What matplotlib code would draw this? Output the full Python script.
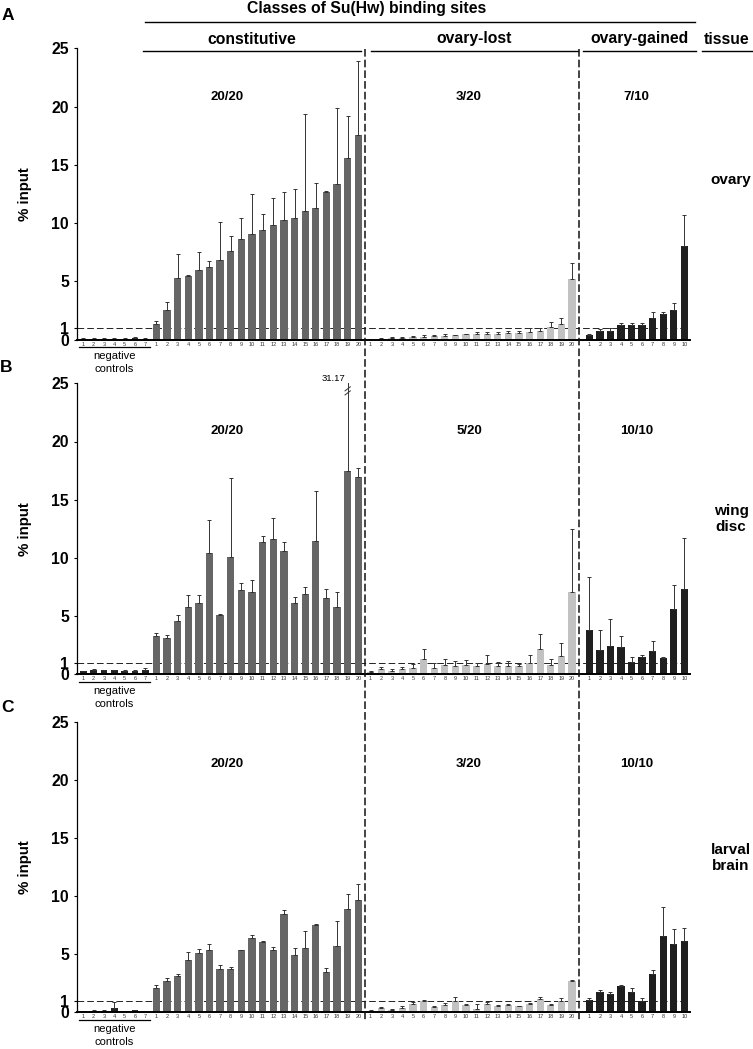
import matplotlib
matplotlib.use('Agg')
import matplotlib.pyplot as plt
from matplotlib.lines import Line2D
from matplotlib import transforms

plt.rcParams['font.family'] = ['Liberation Sans', 'DejaVu Sans']
plt.rcParams['lines.scale_dashes'] = False

# ---- data ----
tissues = ['ovary', 'wing\ndisc', 'larval\nbrain']
fractions = [['20/20', '3/20', '7/10'],
             ['20/20', '5/20', '10/10'],
             ['20/20', '3/20', '10/10']]

# ovary
neg_ovary = [0.1, 0.1, 0.1, 0.1, 0.1, 0.15, 0.1]
neg_ovary_err = [0.05, 0.05, 0.05, 0.05, 0.05, 0.05, 0.05]
const_ovary = [1.34, 2.54, 5.31, 5.43, 5.94, 6.23, 6.83, 7.57, 8.63, 9.09,
               9.37, 9.8, 10.26, 10.43, 11.0, 11.26, 12.63, 13.34, 15.6, 17.6]
const_ovary_err = [0.29, 0.66, 2.03, 0.11, 1.55, 0.54, 3.26, 1.34, 1.83, 3.37,
                   1.43, 2.34, 2.37, 2.46, 8.37, 2.17, 0.17, 6.57, 3.6, 6.29]
lost_ovary = [0.05, 0.1, 0.17, 0.17, 0.26, 0.26, 0.29, 0.34, 0.37, 0.46,
              0.46, 0.46, 0.51, 0.54, 0.6, 0.69, 0.77, 1.11, 1.31, 5.17]
lost_ovary_err = [0.03, 0.02, 0.03, 0.03, 0.08, 0.17, 0.14, 0.15, 0.03, 0.05,
                  0.2, 0.2, 0.15, 0.2, 0.14, 0.31, 0.23, 0.43, 0.58, 1.43]
gained_ovary = [0.37, 0.71, 0.71, 1.26, 1.26, 1.26, 1.89, 2.17, 2.54, 8.06]
gained_ovary_err = [0.12, 0.23, 0.32, 0.2, 0.2, 0.14, 0.45, 0.2, 0.57, 2.63]

# wing disc
neg_wing = [0.26, 0.4, 0.34, 0.34, 0.31, 0.31, 0.4]
neg_wing_err = [0.03, 0.03, 0.06, 0.06, 0.06, 0.09, 0.11]
const_wing = [3.29, 3.14, 4.57, 5.74, 6.11, 10.46, 5.06, 10.09, 7.2, 7.06,
              11.34, 11.6, 10.57, 6.11, 6.89, 11.49, 6.54, 5.74, 17.49, 16.97]
const_wing_err = [0.28, 0.23, 0.49, 1.03, 0.66, 2.8, 0.08, 6.8, 0.63, 1.0,
                  0.55, 1.86, 0.8, 0.52, 0.65, 4.28, 0.75, 1.29, 13.68, 0.77]
lost_wing = [0.17, 0.43, 0.29, 0.43, 0.57, 1.29, 0.54, 0.8, 0.71, 0.8,
             0.71, 0.91, 0.71, 0.71, 0.71, 1.0, 2.17, 0.8, 1.57, 7.11]
lost_wing_err = [0.09, 0.2, 0.14, 0.23, 0.34, 0.85, 0.46, 0.54, 0.4, 0.46,
                 0.26, 0.72, 0.35, 0.4, 0.2, 0.63, 1.32, 0.49, 1.09, 5.38]
gained_wing = [3.83, 2.06, 2.43, 2.31, 1.03, 1.51, 2.03, 1.37, 5.63, 7.29]
gained_wing_err = [4.54, 1.71, 2.28, 0.95, 0.43, 0.12, 0.86, 0.09, 2.0, 4.42]

# larval brain
neg_brain = [0.11, 0.14, 0.14, 0.4, 0.11, 0.17, 0.11]
neg_brain_err = [0.03, 0.03, 0.03, 0.46, 0.03, 0.06, 0.03]
const_brain = [2.09, 2.71, 3.11, 4.54, 5.11, 5.37, 3.74, 3.74, 5.34, 6.4,
               6.03, 5.34, 8.49, 4.89, 5.57, 7.51, 3.43, 5.69, 8.91, 9.69]
const_brain_err = [0.22, 0.23, 0.18, 0.66, 0.35, 0.54, 0.32, 0.2, 0.06, 0.26,
                   0.14, 0.26, 0.34, 0.62, 1.43, 0.06, 0.37, 2.14, 1.26, 1.34]
lost_brain = [0.14, 0.34, 0.23, 0.34, 0.71, 1.0, 0.46, 0.66, 1.0, 0.66,
              0.31, 0.71, 0.57, 0.66, 0.51, 0.74, 1.11, 0.66, 1.0, 2.71]
lost_brain_err = [0.03, 0.15, 0.03, 0.2, 0.2, 0.06, 0.09, 0.14, 0.31, 0.06,
                  0.4, 0.15, 0.03, 0.03, 0.03, 0.05, 0.2, 0.06, 0.2, 0.03]
gained_brain = [1.09, 1.74, 1.57, 2.26, 1.74, 1.0, 3.26, 6.6, 5.89, 6.14]
gained_brain_err = [0.11, 0.2, 0.14, 0.05, 0.32, 0.2, 0.37, 2.46, 1.28, 1.15]

wing_outlier = 31.17

panel_data = [
    [(neg_ovary, neg_ovary_err), (const_ovary, const_ovary_err),
     (lost_ovary, lost_ovary_err), (gained_ovary, gained_ovary_err)],
    [(neg_wing, neg_wing_err), (const_wing, const_wing_err),
     (lost_wing, lost_wing_err), (gained_wing, gained_wing_err)],
    [(neg_brain, neg_brain_err), (const_brain, const_brain_err),
     (lost_brain, lost_brain_err), (gained_brain, gained_brain_err)],
]

# ---- layout ----
W, H = 753, 1049
def fx(x):
    return x / W
def fy(y):
    return 1 - y / H

fig = plt.figure(figsize=(W / 100, H / 100), dpi=100)

zero_px = [339.7, 674.3, 1012.3]
top_px = [48.3, 383.3, 721.7]
left_px, right_px = 77.3, 690.0

neg_x = [0.975 * i for i in range(7)]
const_x = [6.89 + 1.003 * i for i in range(20)]
lost_x = [27.11 + 1.0 * i for i in range(20)]
gained_x = [47.74 + 0.996 * i for i in range(10)]
group_x = [neg_x, const_x, lost_x, gained_x]
group_col = ['#222222', '#666666', '#c2c2c2', '#1f1f1f']
group_w = [0.65, 0.69, 0.69, 0.69]

all_x = neg_x + const_x + lost_x + gained_x
all_lab = ([str(i + 1) for i in range(7)] + [str(i + 1) for i in range(20)] +
           [str(i + 1) for i in range(20)] + [str(i + 1) for i in range(10)])

axes = []
for p in range(3):
    ax = fig.add_axes([fx(left_px), fy(zero_px[p]), fx(right_px) - fx(left_px),
                       (zero_px[p] - top_px[p]) / H])
    axes.append(ax)
    for g in range(4):
        vals, errs = panel_data[p][g]
        ax.bar(group_x[g], vals, width=group_w[g], color=group_col[g],
               yerr=[[0] * len(errs), errs], zorder=2,
               error_kw=dict(ecolor='#333333', elinewidth=0.7, capsize=1.1,
                             capthick=0.7))
    ax.axhline(1, color='#222222', lw=0.7, ls=(0, (4.8, 2.2)), zorder=1)
    ax.set_xlim(-0.566, 57.24)
    ax.set_ylim(0, 25)
    ax.set_yticks([0, 1, 5, 10, 15, 20, 25])
    ax.set_yticklabels(['0', '1', '5', '10', '15', '20', '25'],
                       fontweight='bold', fontsize=11.3)
    ylabs = ax.get_yticklabels()
    ylabs[0].set_transform(ylabs[0].get_transform() +
                           transforms.ScaledTranslation(0, -1.6 / 72, fig.dpi_scale_trans))
    ylabs[1].set_transform(ylabs[1].get_transform() +
                           transforms.ScaledTranslation(0, 1.2 / 72, fig.dpi_scale_trans))
    ax.set_xticks(all_x)
    ax.set_xticklabels(all_lab, fontsize=4, color='#333333')
    ax.tick_params(axis='x', length=0, pad=1.5)
    ax.tick_params(axis='y', length=2.5, width=0.8, pad=3.5)
    for s in ['top', 'right']:
        ax.spines[s].set_visible(False)
    ax.spines['left'].set_linewidth(0.9)
    ax.spines['bottom'].set_linewidth(1.4)
    ax.set_ylabel('% input', fontweight='bold', fontsize=10.8)
    ax.yaxis.set_label_coords(-0.074, 0.5)
    ax.patch.set_visible(False)

    # negative controls bracket
    z = zero_px[p]
    fig.add_artist(Line2D([fx(79), fx(150)], [fy(z + 7.5), fy(z + 7.5)],
                          color='black', lw=0.9))
    fig.text(fx(114.5), fy(z + 16.5), 'negative', fontsize=8,
             ha='center', va='center')
    fig.text(fx(114.5), fy(z + 29.5), 'controls', fontsize=8,
             ha='center', va='center')

    # fractions
    frac_y = [97.3, 431.0, 764.0][p]
    for cx, t in zip([227.5, 469.0, 636.7], fractions[p]):
        fig.text(fx(cx), fy(frac_y), t, fontsize=9.5, fontweight='bold',
                 ha='center', va='center')

    # tissue label
    fig.text(fx(731), fy([180, 519, 858][p]), tissues[p], fontsize=11,
             fontweight='bold', ha='center', va='center', linespacing=1.1)

# off-scale value in wing disc
axb = axes[1]
xo = const_x[18]
axb.text(xo - 0.2, 25.05, '%.2f' % wing_outlier, fontsize=6.8, ha='right',
         va='bottom', clip_on=False)
for dy in [0.0, 0.35]:
    axb.plot([xo - 0.25, xo + 0.25], [24.0 + dy, 24.35 + dy], color='#333333',
             lw=0.7, clip_on=False, zorder=4)

# panel letters
for t, (x, y) in zip(['A', 'B', 'C'], [(8, 15), (6, 367), (7, 707)]):
    fig.text(fx(x), fy(y), t, fontsize=12.5, fontweight='bold',
             ha='center', va='center')

# header
fig.text(fx(367), fy(8.5), 'Classes of Su(Hw) binding sites', fontsize=11.3,
         fontweight='bold', ha='center', va='center')
fig.add_artist(Line2D([fx(145), fx(695)], [fy(22), fy(22)], color='black', lw=1.0))
for t, cx, x0, x1 in [('constitutive', 251.7, 143, 361),
                      ('ovary-lost', 474, 371, 578),
                      ('ovary-gained', 639.5, 583, 696),
                      ('tissue', 727, 702, 753)]:
    fig.text(fx(cx), fy(39), t, fontsize=11.3, fontweight='bold',
             ha='center', va='center')
    fig.add_artist(Line2D([fx(x0), fx(x1)], [fy(51), fy(51)], color='black', lw=1.0))

# vertical dashed separators across the panels
trans = transforms.blended_transform_factory(axes[0].transData, fig.transFigure)
for xv in [26.62, 46.79]:
    fig.add_artist(Line2D([xv, xv], [fy(49), fy(1022)], transform=trans,
                          color='#111111', lw=1.1, ls=(0, (5.5, 2.2))))

fig.savefig('out.png', dpi=100)
